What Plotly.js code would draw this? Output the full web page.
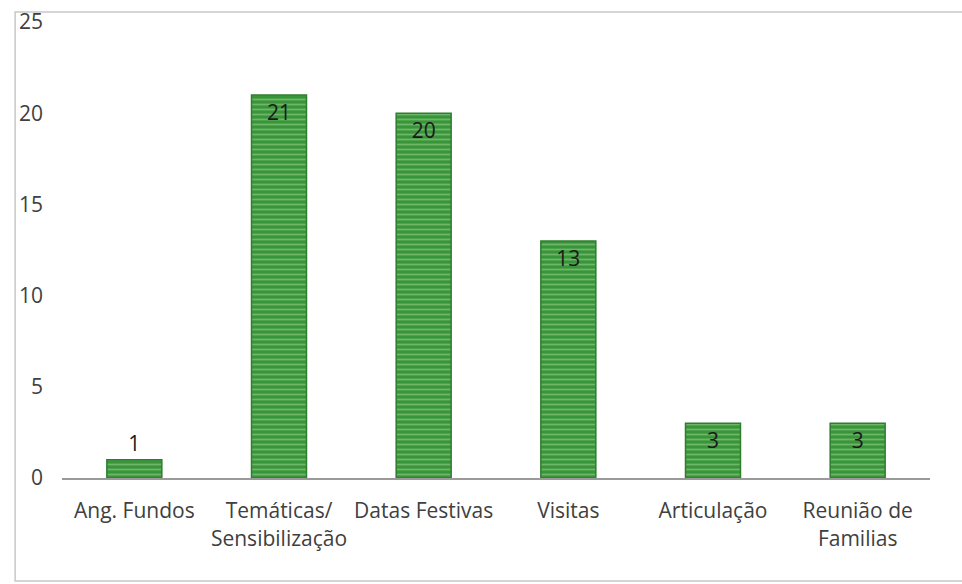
<!DOCTYPE html>
<html>
<head>
<meta charset="utf-8">
<script src="https://cdn.plot.ly/plotly-3.0.1.min.js"></script>
<style>html,body{margin:0;padding:0;background:#fff;}#chart{width:962px;height:584px;}</style>
</head>
<body>
<div id="chart"></div>
<script>
const categories = ["Ang. Fundos", "Temáticas/<br>Sensibilização", "Datas Festivas", "Visitas", "Articulação", "Reunião de<br>Familias"];
const values = [1, 21, 20, 13, 3, 3];
const yTicks = [0, 5, 10, 15, 20, 25];

const positions = values.map(v => v < 2 ? "outside" : "inside");

const trace = {
  type: "bar",
  x: categories,
  y: values,
  text: values.map(String),
  textposition: positions,
  insidetextanchor: "end",
  textangle: 0,
  cliponaxis: false,
  textfont: {family: "'Open Sans', sans-serif", size: 21, color: "#1a1a1a"},
  marker: {
    color: "#3f9a3f",
    line: {color: "#2f7d2f", width: 1.5},
    pattern: {shape: "-", fgcolor: "#9fd89a", bgcolor: "#3a953a", size: 5, solidity: 0.35, fillmode: "overlay"}
  },
  hoverinfo: "skip"
};

const layout = {
  width: 962,
  height: 584,
  margin: {l: 62, r: 32, t: 22, b: 106},
  paper_bgcolor: "#ffffff",
  plot_bgcolor: "#ffffff",
  bargap: 0.62,
  showlegend: false,
  font: {family: "'Open Sans', sans-serif", size: 21, color: "#404040"},
  xaxis: {
    showline: true,
    linecolor: "#9a9a9a",
    linewidth: 2,
    showgrid: false,
    zeroline: false,
    ticks: "",
    ticklabelstandoff: 13,
    tickfont: {size: 21, color: "#404040"},
    automargin: false
  },
  yaxis: {
    range: [0, 25],
    tickvals: yTicks,
    ticktext: yTicks.map(String),
    showgrid: false,
    zeroline: false,
    showline: false,
    ticks: "",
    ticklabelstandoff: 18,
    tickfont: {size: 21, color: "#404040"},
    automargin: false
  },
  shapes: [{
    type: "rect", xref: "paper", yref: "paper",
    x0: -0.054, x1: 1.06, y0: -0.226, y1: 1.022,
    line: {color: "#c8c8c8", width: 1.5}, fillcolor: "rgba(0,0,0,0)", layer: "below"
  }]
};

Plotly.newPlot("chart", [trace], layout, {displayModeBar: false, staticPlot: true});
</script>
</body>
</html>
